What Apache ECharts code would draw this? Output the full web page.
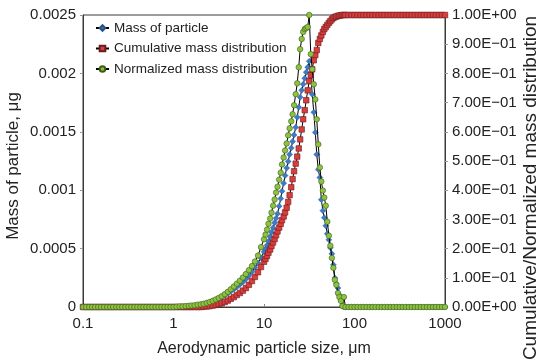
<!DOCTYPE html>
<html>
<head>
<meta charset="utf-8">
<script src="https://cdn.jsdelivr.net/npm/echarts@6/dist/echarts.min.js"></script>
<style>
  html, body { margin: 0; padding: 0; background: #fff; }
  #chart { width: 539px; height: 361px; }
</style>
</head>
<body>
<div id="chart"></div>
<script>
/* ---------- data ---------- */

var sizes = [
  0.1, 0.108, 0.117, 0.126, 0.136, 0.147, 0.158, 0.171, 0.185, 0.2,
  0.215, 0.233, 0.251, 0.271, 0.293, 0.316, 0.341, 0.369, 0.398, 0.43,
  0.464, 0.501, 0.541, 0.584, 0.631, 0.681, 0.736, 0.794, 0.858, 0.926,
  1, 1.08, 1.17, 1.26, 1.36, 1.47, 1.58, 1.71, 1.85, 2,
  2.15, 2.33, 2.51, 2.71, 2.93, 3.16, 3.41, 3.69, 3.98, 4.3,
  4.64, 5.01, 5.41, 5.84, 6.31, 6.81, 7.36, 7.94, 8.58, 9.26,
  10, 10.4, 10.8, 11.2, 11.7, 12.1, 12.6, 13.1, 13.6, 14.1,
  14.7, 15.3, 15.8, 16.5, 17.1, 17.8, 18.5, 19.2, 20, 20.7,
  21.5, 22.4, 23.3, 24.2, 25.1, 26.1, 27.1, 28.2, 29.3, 30.4,
  31.6, 32.9, 34.1, 35.5, 36.9, 38.3, 39.8, 41.4, 43, 44.7,
  46.4, 48.2, 50.1, 52.1, 54.1, 56.2, 58.4, 60.7, 63.1, 65.6,
  68.1, 70.8, 73.6, 76.4, 79.4, 85.8, 92.6,
  100, 108, 117, 126, 136, 147, 158, 171, 185, 200,
  215, 233, 251, 271, 293, 316, 341, 369, 398, 430,
  464, 501, 541, 584, 631, 681, 736, 794, 858, 926, 1000
];

// mass of particle, µg (left axis)
var massVals = [
  0, 0, 0, 0, 0, 0, 0, 0, 0, 0,
  0, 0, 0, 0, 0, 0, 0, 0, 0, 0,
  0, 0, 0, 0, 0, 0, 0, 0, 0, 0,
  0, 0, 0, 0, 0, 0.0000017, 0.0000043, 0.0000086, 0.000013, 0.000017,
  0.000022, 0.000029, 0.000037, 0.000046, 0.000058, 0.00007, 0.000085, 0.0001, 0.000117, 0.000135,
  0.000153, 0.000172, 0.000193, 0.000215, 0.00024, 0.000268, 0.000301, 0.000338, 0.000377, 0.000421,
  0.000473, 0.000498, 0.000528, 0.000563, 0.000601, 0.00064, 0.000679, 0.000722, 0.00076, 0.000799,
  0.000863, 0.000928, 0.000992, 0.00106, 0.001125, 0.00119, 0.001246, 0.001306, 0.001362, 0.001418,
  0.001473, 0.001538, 0.001624, 0.00171, 0.001796, 0.001856, 0.001907, 0.001959, 0.00201, 0.002053,
  0.002105, 0.001993, 0.001821, 0.001667, 0.001495, 0.001306, 0.001177, 0.001108, 0.000919, 0.000825,
  0.000765, 0.000696, 0.000627, 0.000576, 0.000507, 0.000455, 0.000361, 0.000249, 0.000198, 0.000163,
  0.000103, 0.000052, 0.000009, 0, 0, 0, 0,
  0, 0, 0, 0, 0, 0, 0, 0, 0, 0,
  0, 0, 0, 0, 0, 0, 0, 0, 0, 0,
  0, 0, 0, 0, 0, 0, 0, 0, 0, 0, 0
];

// cumulative mass distribution (right axis)
var cumulativeVals = [
  0, 0, 0, 0, 0, 0, 0, 0, 0, 0,
  0, 0, 0, 0, 0, 0, 0, 0, 0, 0,
  0, 0, 0, 0, 0, 0, 0, 0, 0, 0,
  0, 0, 0, 0, 0, 0, 0, 0, 0, 0,
  0.001, 0.002, 0.003, 0.005, 0.007, 0.01, 0.013, 0.017, 0.022, 0.028,
  0.034, 0.041, 0.048, 0.056, 0.065, 0.076, 0.089, 0.103, 0.119, 0.137,
  0.155, 0.165, 0.175, 0.186, 0.197, 0.209, 0.221, 0.233, 0.246, 0.259,
  0.272, 0.285, 0.297, 0.31, 0.324, 0.34, 0.36, 0.383, 0.41, 0.438,
  0.465, 0.491, 0.515, 0.543, 0.574, 0.608, 0.643, 0.674, 0.708, 0.742,
  0.773, 0.794, 0.814, 0.845, 0.863, 0.88, 0.904, 0.918, 0.93, 0.942,
  0.952, 0.959, 0.966, 0.973, 0.979, 0.985, 0.99, 0.993, 0.995, 0.997,
  0.998, 0.999, 1, 1, 1, 1, 1,
  1, 1, 1, 1, 1, 1, 1, 1, 1, 1,
  1, 1, 1, 1, 1, 1, 1, 1, 1, 1,
  1, 1, 1, 1, 1, 1, 1, 1, 1, 1, 1
];

// normalized mass distribution (right axis)
var normalizedVals = [
  0, 0, 0, 0, 0, 0, 0, 0, 0, 0,
  0, 0, 0, 0, 0, 0, 0, 0, 0, 0,
  0, 0, 0, 0, 0, 0, 0, 0, 0, 0,
  0, 0.001, 0.002, 0.002, 0.003, 0.004, 0.005, 0.006, 0.008, 0.009,
  0.011, 0.014, 0.017, 0.021, 0.026, 0.031, 0.037, 0.044, 0.052, 0.061,
  0.07, 0.08, 0.09, 0.101, 0.113, 0.126, 0.14, 0.156, 0.176, 0.205,
  0.232, 0.248, 0.265, 0.285, 0.303, 0.323, 0.347, 0.368, 0.392, 0.412,
  0.436, 0.46, 0.488, 0.512, 0.536, 0.56, 0.588, 0.612, 0.636, 0.66,
  0.691, 0.729, 0.766, 0.821, 0.883, 0.918, 0.942, 0.952, 0.955, 0.959,
  1, 0.866, 0.814, 0.763, 0.711, 0.643, 0.557, 0.478, 0.43, 0.399,
  0.375, 0.347, 0.292, 0.244, 0.21, 0.168, 0.134, 0.093, 0.076, 0.048,
  0.034, 0.021, 0.003, 0.034, 0, 0, 0,
  0, 0, 0, 0, 0, 0, 0, 0, 0, 0,
  0, 0, 0, 0, 0, 0, 0, 0, 0, 0,
  0, 0, 0, 0, 0, 0, 0, 0, 0, 0, 0
];

var xTicks = ["0.1", "1", "10", "100", "1000"];
var leftTicks = ["0", "0.0005", "0.001", "0.0015", "0.002", "0.0025"];
var rightTicks = [
  "0.00E+00", "1.00E\u221201", "2.00E\u221201", "3.00E\u221201", "4.00E\u221201", "5.00E\u221201",
  "6.00E\u221201", "7.00E\u221201", "8.00E\u221201", "9.00E\u221201", "1.00E+00"
];

/* ---------- chart ---------- */

function pairs(vals) {
  var out = [];
  for (var i = 0; i < sizes.length; i++) out.push([sizes[i], vals[i]]);
  return out;
}

var FONT = "Liberation Sans, Arial, sans-serif";
var AXIS_COLOR = "#3a3a3a";
var TXT = "#222";

var chart = echarts.init(document.getElementById("chart"));

chart.setOption({
  animation: false,
  textStyle: { fontFamily: FONT },
  grid: {
    left: 83, right: 94, top: 15, bottom: 54,
    containLabel: false,
    outerBoundsMode: "none",
    show: true,
    borderColor: AXIS_COLOR,
    borderWidth: 1
  },
  legend: {
    orient: "vertical",
    left: 90,
    top: 16,
    itemGap: 6.5,
    itemWidth: 13,
    itemHeight: 7,
    textStyle: { fontFamily: FONT, fontSize: 13.5, color: TXT },
    data: ["Mass of particle", "Cumulative mass distribution", "Normalized mass distribution"]
  },
  xAxis: {
    type: "log",
    logBase: 10,
    min: 0.1,
    max: 1000,
    name: "Aerodynamic particle size, \u03bcm",
    nameLocation: "middle",
    nameGap: 34,
    nameMoveOverlap: false,
    nameTextStyle: { fontFamily: FONT, fontSize: 16, color: TXT },
    axisLine: { lineStyle: { color: AXIS_COLOR } },
    axisTick: { show: true, inside: true, length: 3, lineStyle: { color: "#888" } },
    axisLabel: {
      margin: 9,
      fontFamily: FONT, fontSize: 15, color: TXT,
      formatter: function(v) { return xTicks[Math.round(Math.log10(v)) + 1]; }
    },
    splitLine: { show: false },
    minorTick: { show: false }
  },
  yAxis: [{
    type: "value",
    min: 0,
    max: 0.0025,
    interval: 0.0005,
    position: "left",
    name: "Mass of particle, \u03bcg",
    nameLocation: "middle",
    nameRotate: 90,
    nameGap: 61,
    nameMoveOverlap: false,
    nameTextStyle: { fontFamily: FONT, fontSize: 17, color: TXT, padding: [0, 10, 0, 0] },
    axisLine: { show: true, lineStyle: { color: AXIS_COLOR } },
    axisTick: { show: true, length: 3, lineStyle: { color: "#999" } },
    axisLabel: {
      margin: 7,
      fontFamily: FONT, fontSize: 15, color: TXT,
      formatter: function(v) { return leftTicks[Math.round(v / 0.0005)]; }
    },
    splitLine: { show: false }
  }, {
    type: "value",
    min: 0,
    max: 1,
    interval: 0.1,
    position: "right",
    name: "Cumulative/Normalized mass distribution",
    nameLocation: "middle",
    nameRotate: 90,
    nameGap: 76,
    nameMoveOverlap: false,
    nameTextStyle: { fontFamily: FONT, fontSize: 19, color: TXT, padding: [0, 54, 0, 0] },
    axisLine: { show: true, lineStyle: { color: AXIS_COLOR } },
    axisTick: { show: true, length: 3, lineStyle: { color: "#999" } },
    axisLabel: {
      margin: 7,
      fontFamily: FONT, fontSize: 15, color: TXT,
      formatter: function(v) { return rightTicks[Math.round(v * 10)]; }
    },
    splitLine: { show: false }
  }],
  series: [{
    name: "Mass of particle",
    type: "line",
    yAxisIndex: 0,
    data: pairs(massVals),
    symbol: "diamond",
    symbolSize: 6,
    showAllSymbol: true,
    lineStyle: { color: "#000", width: 1 },
    itemStyle: { color: "#3b7cc8", borderColor: "#2a4f80", borderWidth: 0.4 },
    z: 2
  }, {
    name: "Cumulative mass distribution",
    type: "line",
    yAxisIndex: 1,
    data: pairs(cumulativeVals),
    symbol: "rect",
    symbolSize: 5.5,
    showAllSymbol: true,
    lineStyle: { color: "#000", width: 1 },
    itemStyle: { color: "#d93d3d", borderColor: "#6a1d1d", borderWidth: 0.6 },
    z: 3
  }, {
    name: "Normalized mass distribution",
    type: "line",
    yAxisIndex: 1,
    data: pairs(normalizedVals),
    symbol: "circle",
    symbolSize: 5.5,
    showAllSymbol: true,
    lineStyle: { color: "#000", width: 1 },
    itemStyle: { color: "#8cc43f", borderColor: "#3f5a1c", borderWidth: 0.6 },
    z: 4
  }]
});
</script>
</body>
</html>
